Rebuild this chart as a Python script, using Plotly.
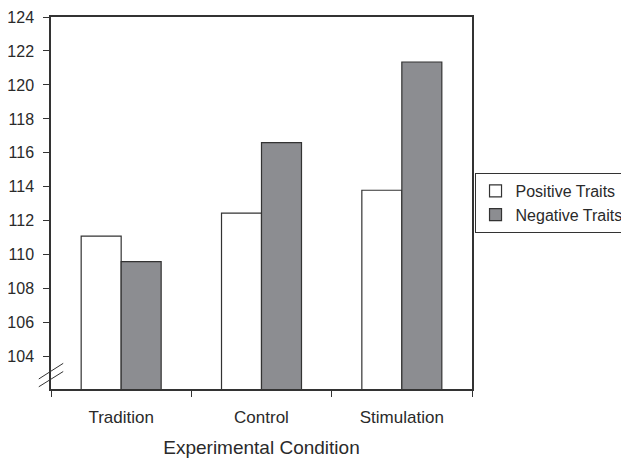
import plotly.graph_objects as go

categories = ["Tradition", "Control", "Stimulation"]
positive_traits = [111.1, 112.45, 113.8]
negative_traits = [109.6, 116.6, 121.35]
y_ticks = [104, 106, 108, 110, 112, 114, 116, 118, 120, 122, 124]

FONT = "Liberation Sans, Arial, sans-serif"
TXT = "#2a2a2a"
LINE = "#333333"

fig = go.Figure()
fig.add_trace(go.Bar(name="Positive Traits", x=categories, y=positive_traits,
                     marker=dict(color="white", line=dict(color=LINE, width=1.2))))
fig.add_trace(go.Bar(name="Negative Traits", x=categories, y=negative_traits,
                     marker=dict(color="#8c8d91", line=dict(color=LINE, width=1.2))))

# axis break marks
for y0, y1 in [(0.027, 0.069), (0.006, 0.047)]:
    fig.add_shape(type="line", xref="paper", yref="paper", x0=-0.029, x1=0.029,
                  y0=y0, y1=y1, line=dict(color=LINE, width=1))

fig.update_layout(
    width=621, height=450,
    margin=dict(l=43, r=157, t=9, b=69, autoexpand=False),
    paper_bgcolor="white", plot_bgcolor="white",
    barmode="group", bargap=0.43, bargroupgap=0,
    font=dict(family=FONT, color=TXT, size=16),
    showlegend=True,
    legend=dict(x=1.006, y=0.5, xanchor="left", yanchor="middle",
                bordercolor=LINE, borderwidth=1, font=dict(size=16, color=TXT),
                itemwidth=30, tracegroupgap=0),
    xaxis=dict(showline=True, linecolor=LINE, linewidth=1.5, mirror=True,
               ticks="outside", tickson="boundaries", ticklen=6, tickcolor=LINE,
               tickfont=dict(size=17, color=TXT), ticklabelstandoff=12,
               title=dict(text="Experimental Condition", font=dict(size=19, color=TXT), standoff=15),
               showgrid=False),
    yaxis=dict(range=[102.1, 124], tickvals=y_ticks, showline=True, linecolor=LINE,
               linewidth=1.5, mirror=True, ticks="outside", ticklen=6, tickcolor=LINE,
               tickfont=dict(size=16, color=TXT), ticklabelstandoff=6,
               showgrid=False, zeroline=False),
)

fig.write_html("out.html")
